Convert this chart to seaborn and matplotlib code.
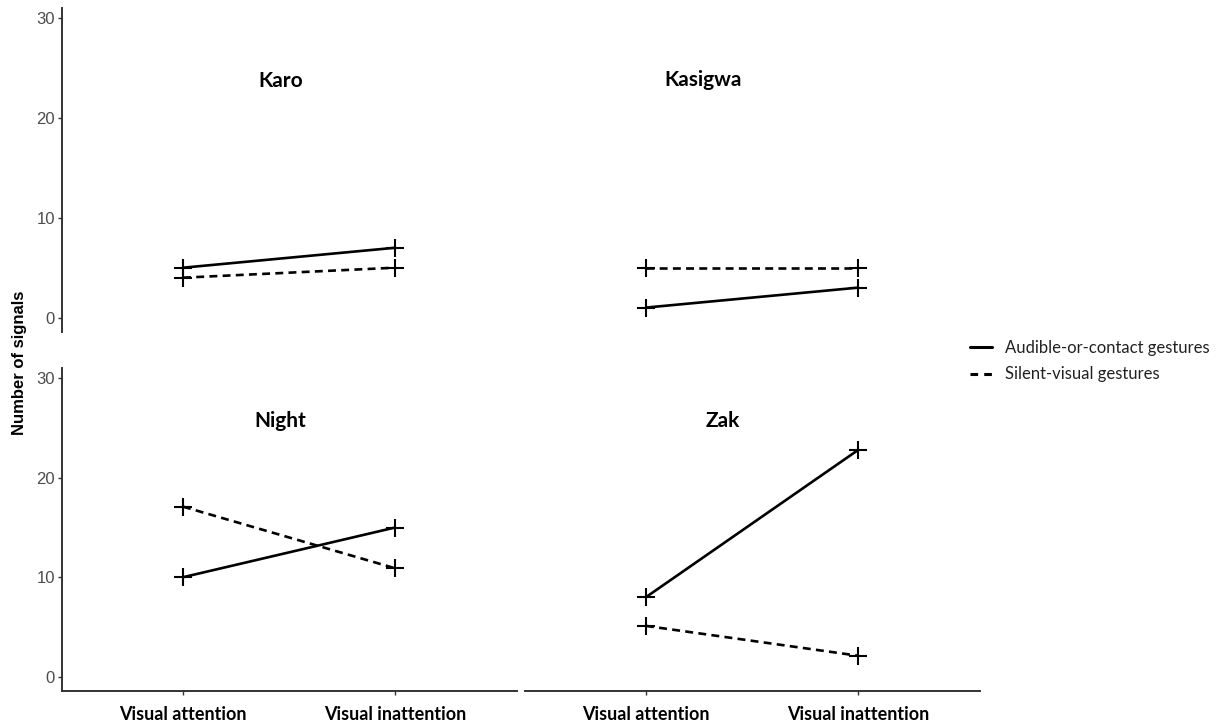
import pandas as pd
import seaborn as sns
import matplotlib.pyplot as plt
from matplotlib.lines import Line2D

# data
individuals = ['Karo', 'Kasigwa', 'Night', 'Zak']
conditions = ['Visual attention', 'Visual inattention']
gestures = ['Audible-or-contact gestures', 'Silent-visual gestures']
audible = {'Karo': [5, 7], 'Kasigwa': [1, 3], 'Night': [10, 15], 'Zak': [8, 22.8]}
silent = {'Karo': [4, 5], 'Kasigwa': [5, 5], 'Night': [17.1, 10.9], 'Zak': [5.1, 2.1]}

rows = []
for ind in individuals:
    for g, vals in zip(gestures, [audible[ind], silent[ind]]):
        for c, v in zip(conditions, vals):
            rows.append({'individual': ind, 'condition': c, 'gesture': g, 'count': v})
df = pd.DataFrame(rows)

sns.set_style('white')
plt.rcParams['font.family'] = ['Liberation Sans', 'DejaVu Sans']

fig = plt.figure(figsize=(12.26, 7.26), dpi=100)
W, H = 1226, 726
# panel boxes in pixels: (left, top, right, bottom)
boxes = {
    'Karo': (62, 8, 517, 332),
    'Kasigwa': (525, 8, 980, 332),
    'Night': (62, 368, 517, 691),
    'Zak': (525, 368, 980, 691),
}
title_pos = {'Karo': (0.46, 23.7), 'Kasigwa': (0.27, 23.8),
             'Night': (0.46, 25.7), 'Zak': (0.36, 25.7)}

for ind in individuals:
    l, t, r, b = boxes[ind]
    ax = fig.add_axes([l / W, 1 - b / H, (r - l) / W, (b - t) / H])
    sub = df[df['individual'] == ind]
    sns.lineplot(data=sub, x='condition', y='count', style='gesture',
                 style_order=gestures, markers={gestures[0]: '+', gestures[1]: '+'},
                 dashes={gestures[0]: '', gestures[1]: (3, 2)},
                 color='black', linewidth=1.9, markersize=13, markeredgewidth=1.5,
                 markeredgecolor='black', legend=False, ax=ax)
    ax.set_xlim(-0.571, 1.575)
    ax.set_ylim(-1.45, 31.05)
    ax.set_xlabel('')
    ax.set_ylabel('')
    tx, ty = title_pos[ind]
    ax.text(tx, ty, ind, ha='center', va='center', fontsize=15, color='black',
            fontweight='bold', family=['Lato', 'DejaVu Sans'])
    for s in ['top', 'right']:
        ax.spines[s].set_visible(False)
    for s in ['left', 'bottom']:
        ax.spines[s].set_color('#333333')
        ax.spines[s].set_linewidth(1.4)
    left_col = ind in ('Karo', 'Night')
    bottom_row = ind in ('Night', 'Zak')
    if left_col:
        ax.set_yticks([0, 10, 20, 30])
        ax.tick_params(axis='y', length=3, width=1, color='#333333',
                       labelsize=12, labelcolor='#4d4d4d', pad=2, left=True)
    else:
        ax.spines['left'].set_visible(False)
        ax.set_yticks([])
    if bottom_row:
        ax.tick_params(axis='x', length=3, width=1, color='#333333', bottom=True, pad=8)
        for lab in ax.get_xticklabels():
            lab.set_fontweight('bold')
            lab.set_fontsize(13)
            lab.set_family(['Lato', 'DejaVu Sans'])
            lab.set_color('black')
    else:
        ax.spines['bottom'].set_visible(False)
        ax.set_xticks([])

fig.text(20 / W, 1 - 363 / H, 'Number of signals', rotation=90, ha='center',
         va='center', fontsize=12, fontweight='bold', color='black')

handles = [Line2D([], [], color='black', linewidth=2.2),
           Line2D([], [], color='black', linewidth=2.2, dashes=(2.5, 2))]
fig.legend(handles, gestures, loc='center left', bbox_to_anchor=(955 / W, 1 - 361 / H),
           frameon=False, handlelength=1.3, handletextpad=0.8, labelspacing=0.65,
           prop={'family': ['Lato', 'DejaVu Sans'], 'size': 12}, labelcolor='#222222')

fig.savefig('out.png', dpi=100)
